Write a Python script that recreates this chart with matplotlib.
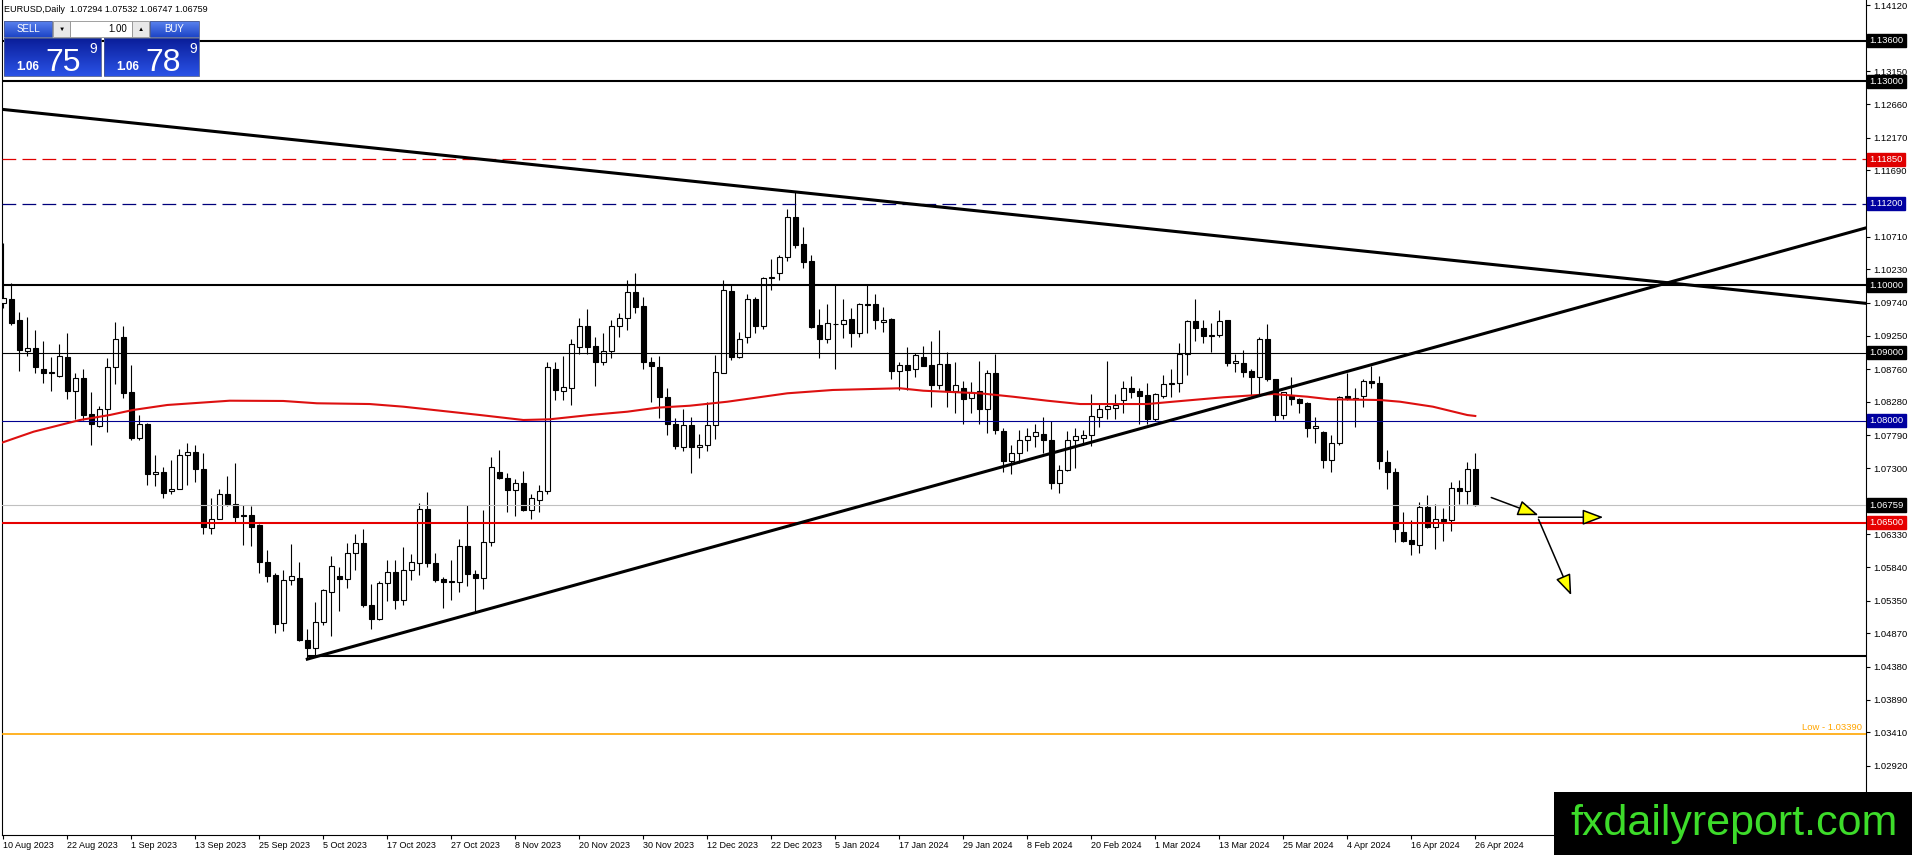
import matplotlib
matplotlib.use("Agg")
import matplotlib.pyplot as plt
import matplotlib.transforms as mtransforms
from matplotlib.patches import Rectangle
from matplotlib.colors import LinearSegmentedColormap
import numpy as np
import pandas as pd

plt.rcParams['font.family'] = ['Liberation Sans', 'DejaVu Sans']

# ---------------- data (EURUSD daily) ----------------
opens = [1.0974, 1.0980, 1.0949, 1.0903, 1.0907, 1.0877, 1.0872, 1.0866, 1.0894, 1.0844,
         1.0863, 1.0810, 1.0793, 1.0817, 1.0879, 1.0923, 1.0842, 1.0774, 1.0795, 1.0721,
         1.0725, 1.0696, 1.0700, 1.0749, 1.0754, 1.0729, 1.0642, 1.0656, 1.0692, 1.0678,
         1.0661, 1.0661, 1.0647, 1.0592, 1.0573, 1.0502, 1.0565, 1.0569, 1.0477, 1.0466,
         1.0504, 1.0548, 1.0572, 1.0567, 1.0605, 1.0620, 1.0528, 1.0508, 1.0561, 1.0577,
         1.0536, 1.0581, 1.0591, 1.0670, 1.0590, 1.0567, 1.0564, 1.0563, 1.0616, 1.0575,
         1.0568, 1.0621, 1.0725, 1.0716, 1.0698, 1.0708, 1.0668, 1.0684, 1.0697, 1.0877,
         1.0844, 1.0849, 1.0909, 1.0940, 1.0910, 1.0886, 1.0903, 1.0939, 1.0952, 1.0990,
         1.0969, 1.0887, 1.0879, 1.0835, 1.0795, 1.0762, 1.0794, 1.0762, 1.0764, 1.0794,
         1.0871, 1.0991, 1.0894, 1.0923, 1.0979, 1.0940, 1.1011, 1.1017, 1.1041, 1.1100,
         1.1060, 1.1035, 1.0941, 1.0920, 1.0942, 1.0942, 1.0950, 1.0929, 1.0972, 1.0972,
         1.0945, 1.0950, 1.0874, 1.0882, 1.0876, 1.0894, 1.0882, 1.0853, 1.0884, 1.0844,
         1.0849, 1.0833, 1.0844, 1.0817, 1.0871, 1.0785, 1.0741, 1.0753, 1.0771, 1.0778,
         1.0780, 1.0772, 1.0708, 1.0727, 1.0771, 1.0774, 1.0779, 1.0806, 1.0817, 1.0819,
         1.0830, 1.0849, 1.0844, 1.0838, 1.0803, 1.0836, 1.0854, 1.0855, 1.0898, 1.0947,
         1.0936, 1.0925, 1.0926, 1.0948, 1.0885, 1.0885, 1.0873, 1.0864, 1.0920, 1.0861,
         1.0808, 1.0837, 1.0832, 1.0826, 1.0789, 1.0784, 1.0742, 1.0768, 1.0836, 1.0834,
         1.0836, 1.0859, 1.0855, 1.0740, 1.0724, 1.0636, 1.0624, 1.0617, 1.0673, 1.0643,
         1.0655, 1.0654, 1.0701, 1.0697, 1.07294]
highs = [1.1062, 1.1003, 1.0960, 1.0953, 1.0934, 1.0918, 1.0894, 1.0913, 1.0930, 1.0871,
         1.0876, 1.0842, 1.0822, 1.0892, 1.0945, 1.0940, 1.0882, 1.0808, 1.0797, 1.0749,
         1.0732, 1.0743, 1.0759, 1.0768, 1.0765, 1.0752, 1.0687, 1.0699, 1.0719, 1.0738,
         1.0676, 1.0675, 1.0648, 1.0610, 1.0576, 1.0580, 1.0619, 1.0592, 1.0494, 1.0533,
         1.0553, 1.0601, 1.0585, 1.0620, 1.0634, 1.0640, 1.0559, 1.0564, 1.0595, 1.0595,
         1.0614, 1.0604, 1.0679, 1.0695, 1.0606, 1.0570, 1.0595, 1.0626, 1.0676, 1.0580,
         1.0669, 1.0747, 1.0757, 1.0723, 1.0715, 1.0726, 1.0692, 1.0706, 1.0887, 1.0886,
         1.0895, 1.0920, 1.0951, 1.0964, 1.0923, 1.0930, 1.0948, 1.0959, 1.1008, 1.1017,
         1.0983, 1.0894, 1.0895, 1.0848, 1.0804, 1.0818, 1.0805, 1.0780, 1.0828, 1.0897,
         1.1008, 1.1002, 1.0931, 1.0987, 1.0983, 1.1012, 1.1039, 1.1044, 1.1112, 1.1139,
         1.1085, 1.1044, 1.0964, 1.0972, 1.1000, 1.0979, 1.0966, 1.0973, 1.1000, 1.0987,
         1.0967, 1.0951, 1.0886, 1.0908, 1.0900, 1.0910, 1.0917, 1.0933, 1.0901, 1.0887,
         1.0858, 1.0857, 1.0888, 1.0875, 1.0899, 1.0789, 1.0764, 1.0786, 1.0789, 1.0796,
         1.0805, 1.0799, 1.0735, 1.0785, 1.0789, 1.0786, 1.0839, 1.0825, 1.0888, 1.0839,
         1.0859, 1.0866, 1.0848, 1.0855, 1.0841, 1.0867, 1.0876, 1.0914, 1.0949, 1.0980,
         1.0948, 1.0944, 1.0963, 1.0949, 1.0898, 1.0905, 1.0876, 1.0923, 1.0943, 1.0862,
         1.0843, 1.0864, 1.0833, 1.0827, 1.0805, 1.0785, 1.0779, 1.0836, 1.0871, 1.0849,
         1.0862, 1.0880, 1.0866, 1.0757, 1.0730, 1.0666, 1.0654, 1.0681, 1.0691, 1.0677,
         1.0671, 1.0710, 1.0713, 1.0740, 1.07532]
lows = [1.0966, 1.0941, 1.0874, 1.0895, 1.0871, 1.0856, 1.0844, 1.0865, 1.0832, 1.0802,
        1.0801, 1.0764, 1.0791, 1.0783, 1.0854, 1.0834, 1.0772, 1.0772, 1.0706, 1.0704,
        1.0687, 1.0692, 1.0699, 1.0706, 1.0710, 1.0633, 1.0634, 1.0655, 1.0675, 1.0651,
        1.0617, 1.0615, 1.0576, 1.0562, 1.0488, 1.0491, 1.0558, 1.0475, 1.0449, 1.0454,
        1.0499, 1.0483, 1.0520, 1.0554, 1.0580, 1.0526, 1.0494, 1.0507, 1.0534, 1.0523,
        1.0528, 1.0565, 1.0573, 1.0584, 1.0562, 1.0524, 1.0536, 1.0548, 1.0557, 1.0517,
        1.0552, 1.0615, 1.0714, 1.0665, 1.0660, 1.0667, 1.0656, 1.0665, 1.0692, 1.0831,
        1.0830, 1.0824, 1.0898, 1.0899, 1.0851, 1.0882, 1.0892, 1.0923, 1.0934, 1.0959,
        1.0877, 1.0828, 1.0804, 1.0779, 1.0759, 1.0755, 1.0723, 1.0745, 1.0755, 1.0773,
        1.0870, 1.0890, 1.0892, 1.0914, 1.0930, 1.0935, 1.0993, 1.1007, 1.1035, 1.1054,
        1.1025, 1.0936, 1.0893, 1.0915, 1.0877, 1.0922, 1.0909, 1.0924, 1.0930, 1.0935,
        1.0931, 1.0861, 1.0846, 1.0846, 1.0865, 1.0880, 1.0821, 1.0847, 1.0821, 1.0812,
        1.0796, 1.0812, 1.0796, 1.0782, 1.0781, 1.0724, 1.0722, 1.0738, 1.0755, 1.0762,
        1.0753, 1.0700, 1.0694, 1.0726, 1.0731, 1.0764, 1.0763, 1.0791, 1.0802, 1.0802,
        1.0812, 1.0833, 1.0796, 1.0796, 1.0799, 1.0833, 1.0835, 1.0843, 1.0867, 1.0918,
        1.0914, 1.0902, 1.0924, 1.0880, 1.0872, 1.0865, 1.0837, 1.0839, 1.0859, 1.0800,
        1.0802, 1.0823, 1.0811, 1.0776, 1.0768, 1.0731, 1.0725, 1.0764, 1.0830, 1.0791,
        1.0821, 1.0848, 1.0729, 1.0699, 1.0622, 1.0622, 1.0602, 1.0606, 1.0642, 1.0611,
        1.0623, 1.0638, 1.0678, 1.0677, 1.06747]
closes = [1.0981, 1.0944, 1.0905, 1.0907, 1.0879, 1.0871, 1.0870, 1.0895, 1.0844, 1.0863,
          1.0809, 1.0795, 1.0818, 1.0879, 1.0921, 1.0841, 1.0775, 1.0795, 1.0721, 1.0725,
          1.0694, 1.0700, 1.0749, 1.0754, 1.0729, 1.0643, 1.0656, 1.0692, 1.0677, 1.0659,
          1.0660, 1.0644, 1.0592, 1.0572, 1.0501, 1.0566, 1.0571, 1.0477, 1.0466, 1.0503,
          1.0551, 1.0586, 1.0567, 1.0605, 1.0620, 1.0528, 1.0508, 1.0561, 1.0577, 1.0536,
          1.0581, 1.0592, 1.0670, 1.0590, 1.0565, 1.0562, 1.0562, 1.0615, 1.0575, 1.0568,
          1.0622, 1.0732, 1.0716, 1.0698, 1.0709, 1.0668, 1.0686, 1.0697, 1.0879, 1.0845,
          1.0850, 1.0913, 1.0940, 1.0909, 1.0887, 1.0903, 1.0939, 1.0952, 1.0990, 1.0968,
          1.0886, 1.0881, 1.0835, 1.0796, 1.0763, 1.0794, 1.0762, 1.0764, 1.0794, 1.0872,
          1.0993, 1.0894, 1.0921, 1.0979, 1.0940, 1.1010, 1.1012, 1.1041, 1.1100, 1.1059,
          1.1034, 1.0938, 1.0920, 1.0944, 1.0943, 1.0949, 1.0930, 1.0972, 1.0971, 1.0949,
          1.0949, 1.0874, 1.0882, 1.0875, 1.0897, 1.0881, 1.0852, 1.0884, 1.0844, 1.0852,
          1.0832, 1.0842, 1.0817, 1.0871, 1.0786, 1.0741, 1.0753, 1.0771, 1.0777, 1.0784,
          1.0771, 1.0708, 1.0728, 1.0771, 1.0778, 1.0779, 1.0807, 1.0818, 1.0822, 1.0823,
          1.0849, 1.0843, 1.0837, 1.0803, 1.0839, 1.0854, 1.0855, 1.0898, 1.0947, 1.0936,
          1.0925, 1.0926, 1.0947, 1.0885, 1.0888, 1.0872, 1.0864, 1.0920, 1.0861, 1.0808,
          1.0842, 1.0832, 1.0826, 1.0789, 1.0793, 1.0742, 1.0768, 1.0835, 1.0834, 1.0832,
          1.0858, 1.0855, 1.0741, 1.0725, 1.0640, 1.0623, 1.0618, 1.0673, 1.0643, 1.0656,
          1.0653, 1.0701, 1.0697, 1.0729, 1.06759]

# red moving average, sampled along the chart (bar index, price)
ma_idx = [-0.4, 3.8, 9.6, 13.3, 16.2, 20.5, 28.3, 35.0, 39.2, 45.8, 50.0, 54.6, 59.6, 65.0,
          68.3, 73.3, 78.0, 81.7, 85.8, 90.5, 98.0, 103.7, 112.1, 115.0, 122.1, 126.2, 130.5,
          134.6, 138.3, 143.0, 146.2, 152.5, 158.7, 163.0, 165.8, 172.1, 174.6, 178.7, 183.0, 184.0]
ma_val = [1.07669, 1.07840, 1.08012, 1.08085, 1.08159, 1.08233, 1.08296, 1.08292, 1.08258,
          1.08247, 1.08208, 1.08149, 1.08085, 1.08012, 1.08022, 1.08085, 1.08134, 1.08193,
          1.08222, 1.08281, 1.08405, 1.08454, 1.08479, 1.08443, 1.08405, 1.08355, 1.08296,
          1.08247, 1.08247, 1.08247, 1.08281, 1.08346, 1.08395, 1.08355, 1.08317, 1.08306,
          1.08281, 1.08208, 1.08085, 1.08071]

# horizontal levels: price, colour, width, style
levels = [(1.13600, 'black', 1.5, '-'), (1.13000, 'black', 1.5, '-'),
          (1.11850, '#e00000', 0.9, (0, (11, 5))), (1.11200, '#00007a', 0.9, (0, (11, 5))),
          (1.10000, 'black', 1.5, '-'), (1.09000, 'black', 0.8, '-'),
          (1.08000, '#000090', 0.8, '-'), (1.06759, '#c0c0c0', 0.8, '-'),
          (1.06500, '#e60000', 1.5, '-')]
level_labels = ['1.13600', '1.13000', '1.11850', '1.11200', '1.10000', '1.09000',
                '1.08000', '1.06759', '1.06500']
level_box = ['black', 'black', '#e00000', '#0000a0', 'black', 'black', '#0000a0', 'black', '#e60000']

low_level = 1.03390
oct_low_start = 38
oct_low_level = 1.0453

# trend lines (bar index, price)
down_trend = [(-0.4, 1.1259), (232.8, 1.0973)]
up_trend = [(38, 1.0449), (232.8, 1.1084)]

# projection arrows (bar index, price)
arrows = [((186.0, 1.0687), (191.9, 1.0661)),
          ((191.9, 1.0658), (200.0, 1.0658)),
          ((191.9, 1.0655), (196.0, 1.0543))]

right_ticks = [1.14120, 1.13150, 1.12660, 1.12170, 1.11690, 1.10710, 1.10230, 1.09740,
               1.09250, 1.08760, 1.08280, 1.07790, 1.07300, 1.06330, 1.05840, 1.05350,
               1.04870, 1.04380, 1.03890, 1.03410, 1.02920, 1.02440]

dates = pd.bdate_range('2023-08-10', '2024-04-26')
dates = dates[~dates.isin(pd.to_datetime(['2023-12-25', '2024-01-01']))]
date_pos = list(range(0, len(dates), 8))
date_labels = [f"{dates[i].day} {dates[i].strftime('%b %Y')}" for i in date_pos]

# ---------------- figure ----------------
W, H = 1912, 855
fig = plt.figure(figsize=(W / 100, H / 100), dpi=100)
fig.patch.set_facecolor('white')
ax = fig.add_axes([2 / W, 1 - 835 / H, 1864 / W, 835 / H])
ax.set_xlim(-0.1625, 232.84)
ax.set_ylim(1.10 - 550 / 6790, 1.10 + 285 / 6790)

x = np.arange(len(opens))
o = np.array(opens); h = np.array(highs); l = np.array(lows); c = np.array(closes)
ax.vlines(x, l, h, color='black', lw=0.8, zorder=2)
bull = c >= o
body_lo = np.minimum(o, c)
body_h = np.maximum(np.abs(c - o), 0.00006)
ax.bar(x[bull], body_h[bull], bottom=body_lo[bull], width=0.62, color='white',
       edgecolor='black', linewidth=0.8, zorder=3)
ax.bar(x[~bull], body_h[~bull], bottom=body_lo[~bull], width=0.62, color='black',
       edgecolor='black', linewidth=0.8, zorder=3)

for (lv, col, lw, ls) in levels:
    ax.axhline(lv, color=col, lw=lw, linestyle=ls, zorder=4)
ax.axhline(low_level, color='#ffa500', lw=1.2, zorder=4)
ax.hlines(oct_low_level, oct_low_start, 232.84, color='black', lw=1.5, zorder=4)

ax.plot(ma_idx, ma_val, color='#dd1010', lw=1.5, zorder=5)
ax.plot([p[0] for p in down_trend], [p[1] for p in down_trend], color='black', lw=2.2, zorder=6)
ax.plot([p[0] for p in up_trend], [p[1] for p in up_trend], color='black', lw=2.2, zorder=6)

for start, end in arrows:
    ax.annotate('', xy=end, xytext=start,
                arrowprops=dict(arrowstyle='-|>,head_length=0.8,head_width=0.3',
                                mutation_scale=16, facecolor='yellow', edgecolor='black',
                                lw=1.1, shrinkA=0, shrinkB=0), zorder=7)

ax.text(232.4, low_level + 0.0002, 'Low - 1.03390', color='#ffa500', fontsize=6.8,
        ha='right', va='bottom', zorder=7)

# axes styling
ax.spines['top'].set_visible(False)
for side in ['left', 'right', 'bottom']:
    ax.spines[side].set_color('black')
    ax.spines[side].set_linewidth(0.8)
ax.yaxis.tick_right()
ax.set_yticks(right_ticks)
ax.set_yticklabels([f"{v:.5f}" for v in right_ticks])
ax.tick_params(axis='y', length=3, width=0.8, labelsize=6.8, pad=2, colors='black')
ax.set_xticks(date_pos)
ax.set_xticklabels(date_labels)
ax.tick_params(axis='x', length=3, width=0.8, labelsize=6.5, pad=1, colors='black')
for t in ax.get_xticklabels():
    t.set_horizontalalignment('left')

trans = mtransforms.blended_transform_factory(ax.transAxes, ax.transData)
for lv_def, txt, box in zip(levels, level_labels, level_box):
    ax.text(1.0018, lv_def[0], txt, transform=trans, color='white', fontsize=6.8,
            ha='left', va='center', clip_on=False, zorder=10,
            bbox=dict(boxstyle='square,pad=0.22', fc=box, ec=box))

# ---------------- overlay: header, trade panel, logo ----------------
ov = fig.add_axes([0, 0, 1, 1], zorder=20)
ov.set_xlim(0, W)
ov.set_ylim(H, 0)
ov.axis('off')
ov.patch.set_alpha(0)

ov.text(4, 10, 'EURUSD,Daily  1.07294 1.07532 1.06747 1.06759', fontsize=6.5,
        va='center', ha='left', color='black')

btn_cmap = LinearSegmentedColormap.from_list('btn', ['#5a82ee', '#1e46c8'])
big_cmap = LinearSegmentedColormap.from_list('big', ['#0a1e9a', '#2a52e6'])
grad = np.linspace(0, 1, 32).reshape(-1, 1)

def grad_box(x0, x1, y0, y1, cmap):
    ov.imshow(grad, cmap=cmap, extent=(x0, x1, y1, y0), aspect='auto', zorder=1)
    ov.add_patch(Rectangle((x0, y0), x1 - x0, y1 - y0, fill=False, ec='#4a5a90', lw=0.6, zorder=2))

grad_box(4, 52, 21, 37, btn_cmap)
grad_box(150, 199, 21, 37, btn_cmap)
ov.add_patch(Rectangle((53, 21), 17, 16, fc='#e8e8e8', ec='#909090', lw=0.6, zorder=2))
ov.add_patch(Rectangle((132, 21), 17, 16, fc='#e8e8e8', ec='#909090', lw=0.6, zorder=2))
ov.add_patch(Rectangle((70, 21), 62, 16, fc='white', ec='#909090', lw=0.6, zorder=2))
ov.text(28, 29.5, 'SELL', color='white', fontsize=7, ha='center', va='center', zorder=3)
ov.text(174, 29.5, 'BUY', color='white', fontsize=7, ha='center', va='center', zorder=3)
ov.text(61.5, 29.5, '\u25bc', color='black', fontsize=4.5, ha='center', va='center', zorder=3)
ov.text(140.5, 29.5, '\u25b2', color='black', fontsize=4.5, ha='center', va='center', zorder=3)
ov.text(127, 29.5, '1.00', color='black', fontsize=7, ha='right', va='center', zorder=3)

grad_box(4, 101, 38, 76, big_cmap)
grad_box(104, 199, 38, 76, big_cmap)
for x0, big in [(4, '75'), (104, '78')]:
    ov.text(x0 + 12, 70, '1.06', color='white', fontsize=8.5, fontweight='bold',
            ha='left', va='baseline', zorder=3)
    ov.text(x0 + 41, 71, big, color='white', fontsize=23, ha='left', va='baseline', zorder=3)
    ov.text(x0 + 85, 53, '9', color='white', fontsize=10, ha='left', va='baseline', zorder=3)

ov.add_patch(Rectangle((1554, 792), W - 1554, H - 792, fc='black', ec='none', zorder=5))
ov.text(1570, 835, 'fxdailyreport.com', color='#3ddc2a', fontsize=31, ha='left',
        va='baseline', zorder=6)

fig.savefig('out.png', dpi=100, facecolor='white')
